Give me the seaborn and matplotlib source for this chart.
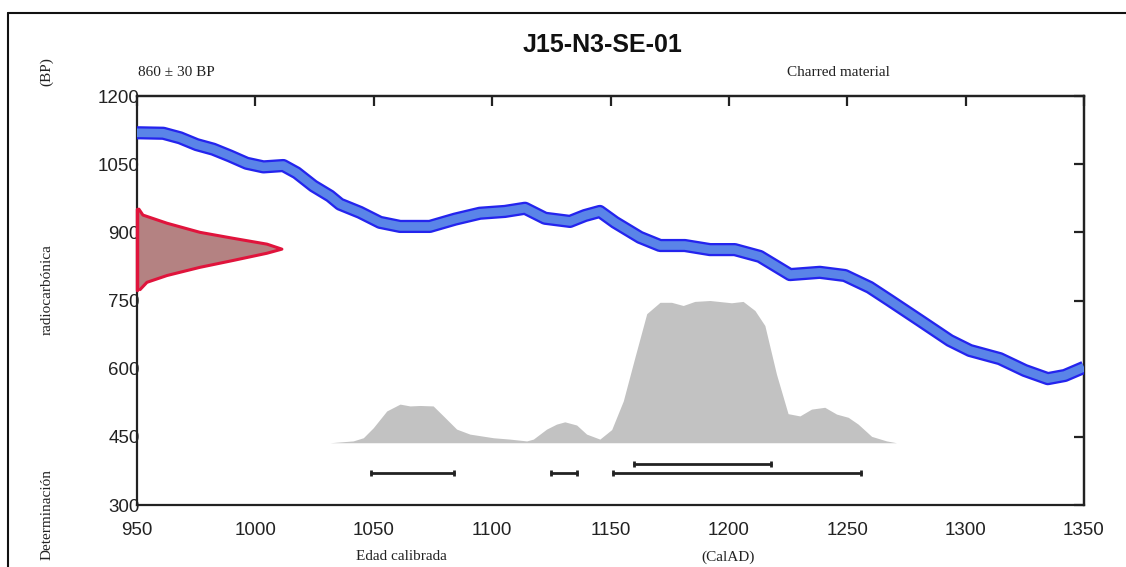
import numpy as np
import matplotlib
matplotlib.use("Agg")
import matplotlib.pyplot as plt
from matplotlib.lines import Line2D
import seaborn as sns

# calibration curve (centre of band)
curve_year = [950, 951.3, 961.1, 968.2, 975.2, 982.2, 989.3, 996.3, 1003.4, 1011.8, 1017.4,
              1024.5, 1031.5, 1035.7, 1044.2, 1052.6, 1061.1, 1073.7, 1084.3, 1094.8, 1105.4,
              1113.9, 1122.3, 1132.9, 1139.2, 1145.5, 1151.9, 1162.4, 1170.9, 1181.4, 1192.0,
              1202.5, 1213.1, 1225.8, 1238.4, 1249.0, 1259.5, 1268.0, 1280.7, 1293.3, 1301.8,
              1314.5, 1325.0, 1334.7, 1341.9, 1350]
curve_bp = [1119, 1119, 1118, 1108, 1093, 1083, 1068, 1052, 1044, 1047, 1031,
            1002, 980, 962, 944, 922, 913, 913, 929, 942, 946,
            953, 931, 924, 937, 946, 922, 889, 871, 871, 862,
            862, 847, 807, 812, 805, 779, 750, 706, 662, 640,
            622, 596, 578, 585, 603]

# radiocarbon date profile (860 +/- 30 BP)
c14_bp = [951, 938, 920, 900, 887, 874, 863, 854, 838, 823, 805, 790, 774]
c14_width = [0.8, 2.5, 12.7, 26.6, 40.5, 54.9, 61.2, 54.9, 40.5, 26.6, 12.7, 4.2, 1.3]

# calibrated probability distribution (top edge, in BP units)
cal_year = [1031.5, 1041.3, 1045.6, 1049.8, 1055.5, 1061.1, 1065.3, 1069.5, 1075.1, 1079.4,
            1085.0, 1090.6, 1100.5, 1107.5, 1114.6, 1117.4, 1123.0, 1127.2, 1130.7, 1135.7,
            1139.9, 1145.5, 1150.5, 1155.4, 1160.3, 1165.3, 1170.9, 1175.8, 1180.7, 1185.6,
            1192.0, 1201.1, 1206.0, 1211.0, 1215.2, 1220.1, 1225.0, 1230.0, 1234.9, 1240.5,
            1245.5, 1250.4, 1254.6, 1260.3, 1266.6, 1270.8]
cal_top = [437, 441, 448, 470, 507, 522, 518, 519, 518, 496,
           467, 456, 448, 445, 441, 445, 467, 478, 483, 476,
           456, 445, 466, 529, 625, 721, 746, 746, 739, 748,
           750, 745, 748, 728, 695, 588, 501, 496, 511, 515,
           500, 493, 478, 451, 441, 437]
cal_base = 437

range_95 = [(1049, 1084), (1125, 1136), (1151, 1256)]
range_68 = [(1160, 1218)]

x_ticks = [950, 1000, 1050, 1100, 1150, 1200, 1250, 1300, 1350]
y_ticks = [300, 450, 600, 750, 900, 1050, 1200]

sns.set_style("white")
plt.rcParams['font.family'] = ['Liberation Sans', 'DejaVu Sans']

fig = plt.figure(figsize=(11.26, 5.67), dpi=100)
ax = fig.add_axes([137 / 1126, 1 - 505 / 567, (1084 - 137) / 1126, (505 - 96) / 567])

# grey calibrated distribution
ax.fill_between(cal_year, cal_base, cal_top, color="#c2c2c2", lw=0, zorder=1)

# calibration band
sns.lineplot(x=curve_year, y=curve_bp, ax=ax, color="#2424ee", lw=9.5,
             sort=False, estimator=None, solid_capstyle="butt",
             solid_joinstyle="round", zorder=3)
sns.lineplot(x=curve_year, y=curve_bp, ax=ax, color="#5a84e8", lw=6.2,
             sort=False, estimator=None, solid_capstyle="butt",
             solid_joinstyle="round", zorder=4)

# radiocarbon date on the y axis
c14_x = [950 + w for w in c14_width]
ax.fill_betweenx(c14_bp, 950, c14_x, color="#b48282", lw=0, zorder=2)
ax.plot(c14_x, c14_bp, color="#e0143c", lw=2.2, zorder=5, clip_on=False,
        solid_joinstyle="round")
ax.plot([950, 950], [c14_bp[0], c14_bp[-1]], color="#e0143c", lw=2.5, zorder=5, clip_on=False)

# probability ranges
for lo, hi in range_95:
    ax.plot([lo, hi], [371, 371], color="#222222", lw=2, marker="|", ms=5, mew=2)
for lo, hi in range_68:
    ax.plot([lo, hi], [391, 391], color="#222222", lw=2, marker="|", ms=5, mew=2)

ax.set_xlim(950, 1350)
ax.set_ylim(300, 1200)
ax.set_xticks(x_ticks)
ax.set_yticks(y_ticks)
for s in ax.spines.values():
    s.set_linewidth(1.6)
    s.set_color("#222222")
    s.set_visible(True)
ax.tick_params(axis="x", direction="out", length=7, width=1.6, pad=5,
               labelsize=13.5, colors="#222222")
ax.tick_params(axis="y", direction="out", length=3, width=1.6, pad=-5,
               labelsize=13.5, colors="#222222")

top = ax.secondary_xaxis("top")
top.set_xticks(x_ticks)
top.tick_params(direction="in", length=7, width=1.6, labeltop=False, colors="#222222")
right = ax.secondary_yaxis("right")
right.set_yticks(y_ticks)
right.tick_params(direction="in", length=7, width=1.6, labelright=False, colors="#222222")
for a in (top, right):
    for s in a.spines.values():
        s.set_linewidth(1.6)
        s.set_color("#222222")

serif = ['Liberation Serif', 'DejaVu Serif']
fig.text(603 / 1126, 1 - 45 / 567, "J15-N3-SE-01", ha="center", va="center",
         fontsize=18, fontweight="bold", color="#111111")
fig.text(138 / 1126, 1 - 72 / 567, "860 ± 30 BP", ha="left", va="center",
         fontsize=11, family=serif, color="#222222")
fig.text(838 / 1126, 1 - 72 / 567, "Charred material", ha="center", va="center",
         fontsize=11, family=serif, color="#222222")
fig.text(47 / 1126, 1 - 72 / 567, "(BP)", rotation=90, ha="center", va="center",
         fontsize=11, family=serif, color="#222222")
fig.text(47 / 1126, 1 - 290 / 567, "radiocarbónica", rotation=90, ha="center", va="center",
         fontsize=11, family=serif, color="#222222")
fig.text(47 / 1126, 1 - 515 / 567, "Determinación", rotation=90, ha="center", va="center",
         fontsize=11, family=serif, color="#222222")
fig.text(401 / 1126, 1 - 557 / 567, "Edad calibrada", ha="center", va="center",
         fontsize=11, family=serif, color="#222222")
fig.text(728 / 1126, 1 - 557 / 567, "(CalAD)", ha="center", va="center",
         fontsize=11, family=serif, color="#222222")

# outer frame (top and left edges)
fig.add_artist(Line2D([8 / 1126, 1], [1 - 13 / 567, 1 - 13 / 567], color="#111111", lw=1.5))
fig.add_artist(Line2D([8 / 1126, 8 / 1126], [0, 1 - 13 / 567], color="#111111", lw=1.5))

fig.savefig("out.png", dpi=100)
